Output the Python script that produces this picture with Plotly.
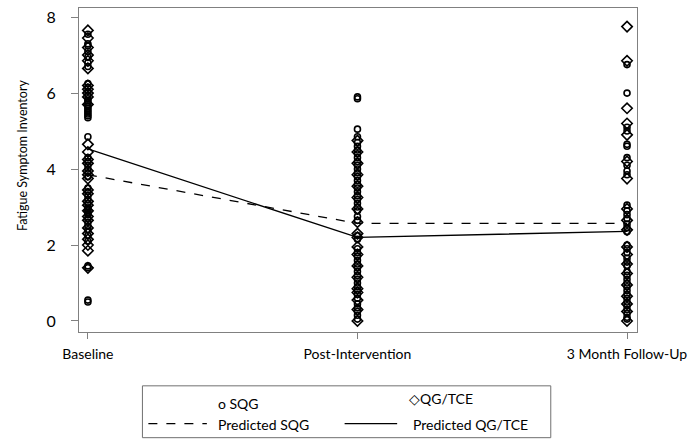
import plotly.graph_objects as go

timepoints = ["Baseline", "Post-Intervention", "3 Month Follow-Up"]
y_ticks = [0, 2, 4, 6, 8]

# observed scores per time point
sqg_baseline = [7.55, 7.3, 7.25, 7.1, 6.95, 6.8, 6.7, 6.25, 6.15, 6.05, 5.95, 5.85, 5.8, 5.75, 5.7,
                5.65, 5.6, 5.55, 5.5, 5.45, 5.4, 5.35, 4.85, 4.3, 4.2, 4.1, 4.0, 3.9, 3.8, 3.5, 3.4,
                3.3, 3.2, 3.1, 3.0, 2.95, 2.9, 2.85, 2.8, 2.7, 2.6, 2.5, 2.4, 2.25, 2.1, 1.45, 1.4,
                0.55, 0.5]
qg_baseline = [7.65, 7.45, 7.2, 7.0, 6.85, 6.65, 6.2, 6.1, 6.0, 5.9, 5.7, 4.65, 4.45, 4.25, 4.15,
               3.95, 3.85, 3.75, 3.45, 3.35, 3.15, 3.05, 2.9, 2.75, 2.65, 2.45, 2.3, 2.15, 2.0, 1.85, 1.4]

sqg_post = [5.9, 5.85, 5.05, 4.85, 4.7, 4.6, 4.5, 4.4, 4.3, 4.2, 4.1, 4.0, 3.9, 3.8, 3.7, 3.6, 3.5,
            3.4, 3.3, 3.2, 3.1, 3.0, 2.9, 2.75, 2.65, 2.25, 2.15, 1.9, 1.8, 1.7, 1.6, 1.5, 1.4, 1.3,
            1.2, 1.1, 1.0, 0.9, 0.8, 0.7, 0.6, 0.45, 0.35, 0.25, 0.15, 0.05]
qg_post = [4.75, 4.45, 4.15, 3.85, 3.55, 3.25, 2.95, 2.6, 2.3, 2.2, 1.95, 1.75, 1.45, 1.15, 0.85,
           0.75, 0.55, 0.3, 0.0]

sqg_follow = [6.75, 6.0, 5.1, 5.0, 4.65, 4.6, 4.3, 4.1, 3.95, 3.85, 3.05, 2.9, 2.8, 2.7, 2.55, 2.45,
              2.35, 2.0, 1.9, 1.8, 1.65, 1.55, 1.45, 1.3, 1.2, 1.1, 1.0, 0.9, 0.8, 0.7, 0.6, 0.5,
              0.4, 0.3, 0.2, 0.1, 0.05]
qg_follow = [7.75, 6.85, 5.6, 5.2, 4.9, 4.2, 3.75, 2.95, 2.65, 2.4, 1.95, 1.75, 1.5, 1.25, 0.95,
             0.65, 0.45, 0.25, 0.0]

# model predictions
pred_sqg = [3.85, 2.57, 2.57]
pred_qg = [4.53, 2.2, 2.36]

sqg_obs = [sqg_baseline, sqg_post, sqg_follow]
qg_obs = [qg_baseline, qg_post, qg_follow]

fig = go.Figure()

sx, sy = [], []
for i, vals in enumerate(sqg_obs):
    sx += [i] * len(vals)
    sy += vals
qx, qy = [], []
for i, vals in enumerate(qg_obs):
    qx += [i] * len(vals)
    qy += vals

fig.add_trace(go.Scatter(x=sx, y=sy, mode="markers", name="SQG",
                         marker=dict(symbol="circle-open", size=6, color="black",
                                     line=dict(width=1.6, color="black"))))
fig.add_trace(go.Scatter(x=qx, y=qy, mode="markers", name="QG/TCE",
                         marker=dict(symbol="diamond-open", size=8, color="black",
                                     line=dict(width=1.6, color="black"))))
fig.add_trace(go.Scatter(x=[0, 1, 2], y=pred_sqg, mode="lines", name="Predicted SQG",
                         line=dict(color="black", width=1.3, dash="dash")))
fig.add_trace(go.Scatter(x=[0, 1, 2], y=pred_qg, mode="lines", name="Predicted QG/TCE",
                         line=dict(color="black", width=1.3)))

font = "Lato, Open Sans, sans-serif"

fig.update_layout(
    width=694, height=440,
    margin=dict(l=79, r=52, t=7, b=108),
    plot_bgcolor="white", paper_bgcolor="white",
    showlegend=False,
    font=dict(family=font, size=14, color="black"),
    xaxis=dict(range=[-0.033, 2.037], tickvals=[0, 1, 2], ticktext=timepoints,
               showgrid=False, zeroline=False, showline=True, linecolor="#808080",
               linewidth=1, mirror=True, ticks="outside", ticklen=6, tickcolor="#808080",
               ticklabelstandoff=3,
               tickfont=dict(size=14, family=font)),
    yaxis=dict(range=[-0.29, 8.24], tickvals=y_ticks, showgrid=False, zeroline=False,
               showline=True, linecolor="#808080", linewidth=1, mirror=True,
               ticks="outside", ticklen=7, tickcolor="#808080",
               ticklabelstandoff=12,
               tickfont=dict(size=16, family=font)),
)

# pixel -> paper coordinate helpers
def px_x(px):
    return (px - 79) / 563

def px_y(py):
    return (332 - py) / 325

# y-axis title
fig.add_annotation(text="Fatigue Symptom Inventory", xref="paper", yref="paper",
                   x=px_x(22), y=px_y(155), xanchor="center", yanchor="middle",
                   textangle=-90, showarrow=False,
                   font=dict(size=12.5, family=font, color="black"))

# manual legend
fig.add_shape(type="rect", xref="paper", yref="paper",
              x0=px_x(143), x1=px_x(555), y0=px_y(386), y1=px_y(438),
              line=dict(color="#707070", width=1), fillcolor="white")
fig.add_shape(type="line", xref="paper", yref="paper",
              x0=px_x(149), x1=px_x(208), y0=px_y(424), y1=px_y(424),
              line=dict(color="black", width=1.3, dash="dash"))
fig.add_shape(type="line", xref="paper", yref="paper",
              x0=px_x(347), x1=px_x(400), y0=px_y(424), y1=px_y(424),
              line=dict(color="black", width=1.3))

legend_texts = [("o SQG", 217, 404), ("◇QG/TCE", 410, 399),
                ("Predicted SQG", 217, 425), ("Predicted QG/TCE", 414, 425)]
for txt, x, y in legend_texts:
    fig.add_annotation(text=txt, xref="paper", yref="paper", x=px_x(x), y=px_y(y),
                       xanchor="left", yanchor="middle", showarrow=False,
                       font=dict(size=14, family=font, color="black"))

fig.write_html("out.html", config={"displayModeBar": False},
               post_script="document.body.style.margin='0';document.body.style.padding='0';")
